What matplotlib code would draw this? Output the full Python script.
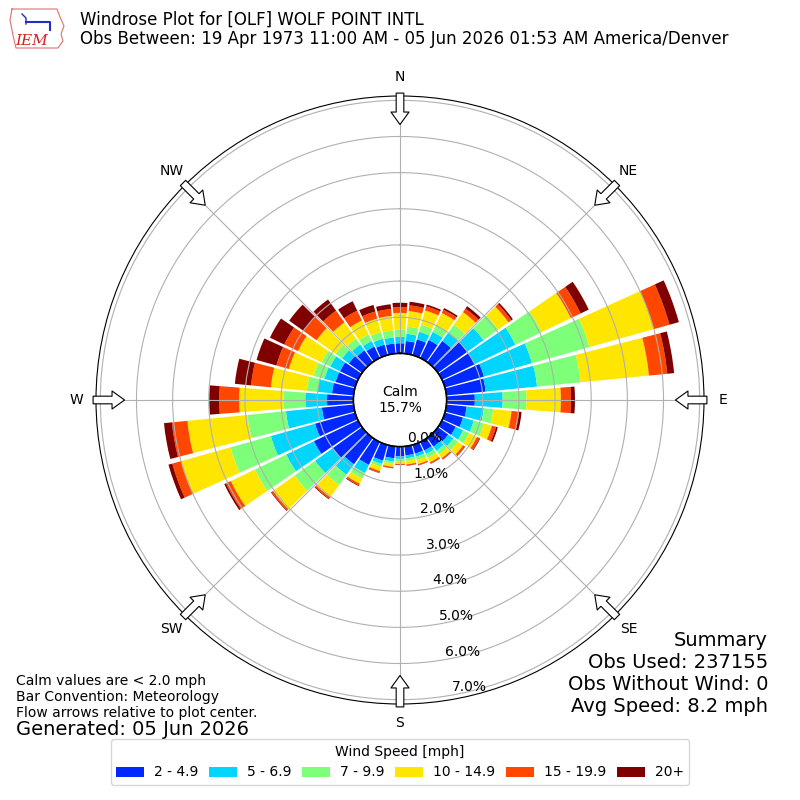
import matplotlib
matplotlib.use('Agg')
import matplotlib.pyplot as plt
from matplotlib.transforms import ScaledTranslation
from matplotlib.lines import Line2D
import numpy as np

# direction bins (deg, meteorological, 10 deg)
directions = np.arange(0, 360, 10)

# cumulative frequency [%] at the top of each speed class, per direction
cum_2 = [0.28, 0.35, 0.45, 0.55, 0.72, 1.00, 1.00, 1.12, 1.09, 0.78, 0.56, 0.52,
         0.42, 0.35, 0.30, 0.26, 0.25, 0.25, 0.27, 0.33, 0.45, 0.70, 0.90, 1.00,
         1.35, 1.15, 0.88, 0.73, 0.60, 0.56, 0.55, 0.45, 0.40, 0.35, 0.30, 0.28]
cum_5 = [0.46, 0.55, 0.67, 0.80, 1.00, 1.55, 2.25, 2.50, 2.52, 1.55, 1.04, 0.83,
         0.65, 0.53, 0.44, 0.37, 0.34, 0.33, 0.34, 0.42, 0.55, 0.95, 1.25, 1.60,
         2.20, 2.42, 1.88, 1.33, 1.00, 0.88, 0.85, 0.68, 0.60, 0.52, 0.47, 0.45]
cum_7 = [0.66, 0.75, 0.87, 1.00, 1.27, 2.05, 3.05, 4.15, 3.73, 2.21, 1.30, 1.12,
         0.83, 0.68, 0.56, 0.48, 0.43, 0.40, 0.40, 0.48, 0.63, 1.12, 1.60, 2.30,
         3.16, 3.58, 2.95, 1.93, 1.30, 1.19, 1.12, 0.90, 0.80, 0.72, 0.66, 0.64]
cum_10 = [1.12, 1.18, 1.28, 1.38, 1.70, 2.40, 3.95, 6.00, 5.63, 3.16, 1.81, 1.35,
          1.07, 0.86, 0.69, 0.62, 0.55, 0.50, 0.48, 0.57, 0.75, 1.28, 2.02, 3.03,
          3.90, 4.99, 4.62, 3.16, 2.30, 1.90, 1.84, 1.55, 1.35, 1.15, 1.05, 1.05]
cum_15 = [1.28, 1.34, 1.40, 1.48, 1.82, 2.50, 4.25, 6.45, 6.14, 3.44, 2.02, 1.47,
          1.15, 0.92, 0.73, 0.66, 0.58, 0.53, 0.50, 0.60, 0.80, 1.33, 2.07, 3.08,
          4.05, 5.25, 5.05, 3.71, 2.85, 2.26, 2.26, 2.00, 1.75, 1.45, 1.25, 1.24]
cum_20 = [1.40, 1.44, 1.45, 1.53, 1.90, 2.55, 4.50, 6.72, 6.33, 3.55, 2.09, 1.52,
          1.17, 0.93, 0.74, 0.67, 0.59, 0.54, 0.51, 0.61, 0.81, 1.35, 2.09, 3.10,
          4.10, 5.36, 5.27, 3.99, 3.30, 2.83, 2.70, 2.48, 2.13, 1.74, 1.44, 1.37]

speed_labels = ['2 - 4.9', '5 - 6.9', '7 - 9.9', '10 - 14.9', '15 - 19.9', '20+']
compass = ['N', 'NE', 'E', 'SE', 'S', 'SW', 'W', 'NW']
calm_pct = 15.7
r_ticks = [0, 1, 2, 3, 4, 5, 6, 7]
summary_lines = ['Summary', 'Obs Used: 237155', 'Obs Without Wind: 0', 'Avg Speed: 8.2 mph']

fig = plt.figure(figsize=(8, 8), dpi=100)
ax = fig.add_axes([0.12, 0.12, 0.76, 0.76], projection='polar')
ax.set_theta_zero_location('N')
ax.set_theta_direction(-1)

theta = np.deg2rad(directions)
width = np.deg2rad(10) * 0.88
colors = plt.cm.jet(np.linspace(0, 1, 7)[1:])
bottom = np.zeros(len(directions))
for cum, c, lab in zip([cum_2, cum_5, cum_7, cum_10, cum_15, cum_20], colors, speed_labels):
    cum = np.array(cum)
    ax.bar(theta, cum - bottom, width=width, bottom=bottom, color=c, label=lab,
           linewidth=0)
    bottom = cum

ax.set_ylim(0, 7.12)
ax.set_rorigin(-1.29)
ax.set_yticks(r_ticks)
ax.set_yticklabels([])
ax.set_xticks(np.deg2rad(np.arange(0, 360, 45)))
ax.set_xticklabels([])
ax.grid(True, color='#b0b0b0', lw=0.8)

# radial labels along 170 deg, nudged right/up
lab_off = ax.transData + ScaledTranslation(0.17, 0.08, fig.dpi_scale_trans)
for v in r_ticks:
    ax.text(np.deg2rad(170), v, '%.1f%%' % v, ha='center', va='center',
            fontsize=10, transform=lab_off, clip_on=False, zorder=7)

# calm circle
circ = np.linspace(0, 2 * np.pi, 300)
ax.plot(circ, np.zeros_like(circ), color='k', lw=1.2, clip_on=False, zorder=5)
fig.text(0.5, 0.5, 'Calm\n%.1f%%' % calm_pct, ha='center', va='center', fontsize=10)

# compass labels and flow arrows
for i, lab in enumerate(compass):
    t = np.deg2rad(i * 45)
    ax.text(t, 7.65, lab, ha='center', va='center', fontsize=10, clip_on=False)
    ax.annotate('', xy=(t, 6.33), xytext=(t, 7.2),
                arrowprops=dict(arrowstyle='simple,head_length=0.9,head_width=1.3,tail_width=0.55',
                                fc='white', ec='black', lw=0.8, shrinkA=0, shrinkB=0),
                annotation_clip=False, zorder=6)

# header
fig.text(0.1, 0.986, 'Windrose Plot for [OLF] WOLF POINT INTL\n'
         'Obs Between: 19 Apr 1973 11:00 AM - 05 Jun 2026 01:53 AM America/Denver',
         va='top', fontsize=12, linespacing=1.05)

# rough IEM logo
logo_x = [12, 57, 60, 64, 61, 63, 58, 16, 14, 12, 10, 12]
logo_y = [9, 9, 17, 26, 34, 41, 48, 48, 40, 30, 20, 9]
fig.add_artist(Line2D(np.array(logo_x) / 800, 1 - np.array(logo_y) / 800,
                      color='#e07070', lw=0.8, transform=fig.transFigure))
fig.add_artist(Line2D(np.array([26, 50, 50]) / 800, 1 - np.array([22, 22, 30]) / 800,
                      color='#2030c0', lw=1.5, transform=fig.transFigure))
fig.add_artist(Line2D(np.array([22, 26, 26]) / 800, 1 - np.array([14, 18, 24]) / 800,
                      color='#2030c0', lw=1.0, transform=fig.transFigure))
fig.text(0.019, 0.944, 'IEM', color='#d42020', fontsize=11, style='italic', family='serif')

# footer texts
for k, line in enumerate(summary_lines):
    fig.text(0.96, 0.2 - k * 0.0275, line, ha='right', va='center', fontsize=14)
fig.text(0.02, 0.1, 'Calm values are < 2.0 mph\nBar Convention: Meteorology\n'
         'Flow arrows relative to plot center.', va='bottom', fontsize=10)
fig.text(0.02, 0.076, 'Generated: 05 Jun 2026', va='bottom', fontsize=14)

handles, labels = ax.get_legend_handles_labels()
fig.legend(handles, labels, loc='lower center', bbox_to_anchor=(0.5, 0.01), ncol=6,
           title='Wind Speed [mph]', fontsize=10, title_fontsize=10,
           handletextpad=0.7, columnspacing=0.8)

fig.savefig('out.png', dpi=100)
